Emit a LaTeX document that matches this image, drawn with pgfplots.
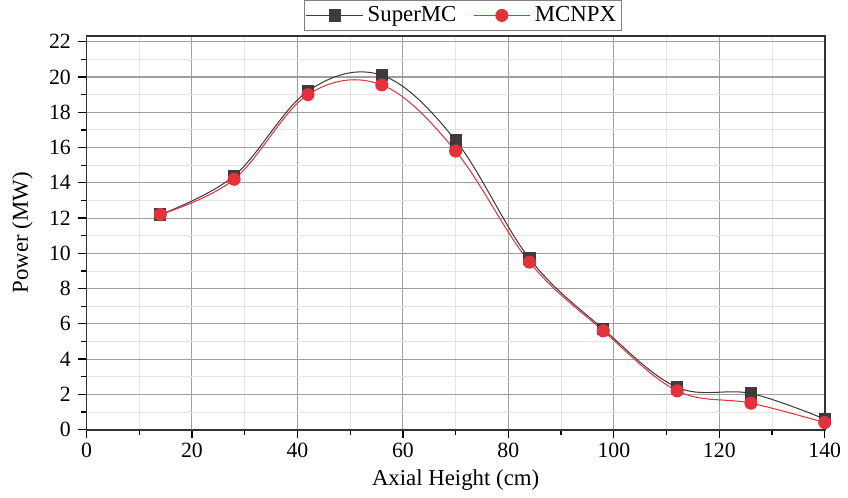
\documentclass[border=0pt]{standalone}
\usepackage{fontspec}
\setmainfont{Liberation Serif}
\usepackage{pgfplots}
\pgfplotsset{compat=1.18}
\definecolor{smc}{RGB}{60,60,60}
\definecolor{mcn}{RGB}{228,50,60}
\begin{document}
\begin{tikzpicture}
\begin{axis}[
  scale only axis,
  width=356pt, height=190pt,
  xmin=0, xmax=140, ymin=0, ymax=22.35,
  xtick={0,20,...,140}, minor x tick num=1,
  ytick={0,2,...,22}, minor y tick num=1,
  tick align=outside,
  tick pos=left,
  major tick length=4pt, minor tick length=2.5pt,
  every tick/.style={black, line width=0.6pt},
  grid=both,
  major grid style={gray!75, line width=0.5pt},
  minor grid style={gray!20, line width=0.4pt},
  axis line style={black!80, line width=0.9pt},
  tick label style={font=\fontsize{10.5}{12}\selectfont},
  xticklabel style={yshift=1pt},
  /pgf/number format/assume math mode=true,
  xlabel={Axial Height (cm)},
  ylabel={Power (MW)},
  label style={font=\fontsize{11}{12}\selectfont},
  xlabel style={yshift=1pt},
  ylabel style={yshift=1pt},
  legend columns=2,
  legend style={at={(0.51,1.012)}, anchor=south, draw=gray, line width=0.5pt,
    font=\fontsize{11}{12}\selectfont, inner sep=0.8pt,
    /tikz/every even column/.append style={column sep=6pt}},
  legend image code/.code={
    \draw[mark repeat=2, mark phase=2, line width=0.5pt]
      plot coordinates {(0cm,0cm) (0.48cm,0cm) (0.96cm,0cm)};},
]
\addplot[smc, line width=0.5pt, smooth, tension=0.6, mark=square*, mark size=2.7pt,
  mark options={fill=smc, draw=smc}] coordinates {
  (14,12.2) (28,14.4) (42,19.2) (56,20.1) (70,16.4)
  (84,9.7) (98,5.7) (112,2.4) (126,2.05) (140,0.6)
};
\addlegendentry{SuperMC}
\addplot[mcn, line width=0.5pt, smooth, tension=0.6, mark=*, mark size=2.9pt,
  mark options={fill=mcn, draw=mcn}] coordinates {
  (14,12.2) (28,14.2) (42,19.0) (56,19.55) (70,15.8)
  (84,9.5) (98,5.6) (112,2.2) (126,1.5) (140,0.4)
};
\addlegendentry{MCNPX}
\end{axis}
\path (current bounding box.west) ++(-2.5pt,0) coordinate (padleft);
\end{tikzpicture}
\end{document}
